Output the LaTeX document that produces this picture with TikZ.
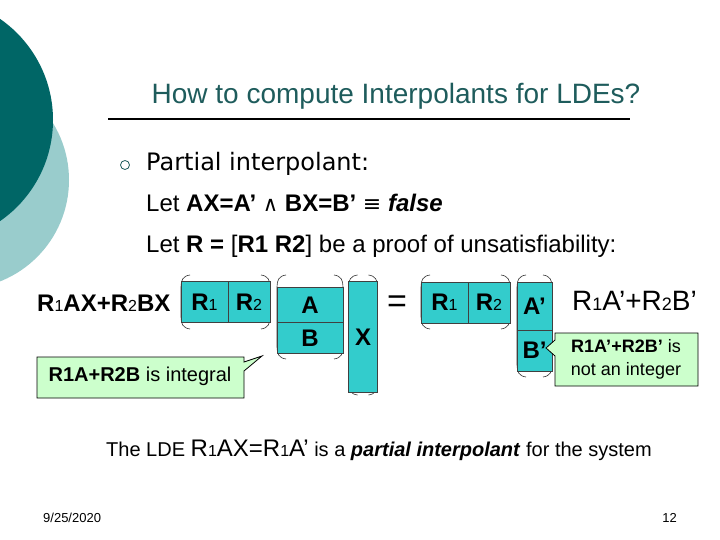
\documentclass[tikz,border=0pt]{standalone}
\usepackage{fontspec}
\setmainfont{Liberation Sans}
\newfontfamily\dejavu{DejaVu Sans}
\usetikzlibrary{positioning}
\definecolor{DeepTeal}{HTML}{006666}
\definecolor{PaleTeal}{HTML}{99CCCC}
\definecolor{TitleTeal}{HTML}{1E5C5C}
\definecolor{CellCyan}{HTML}{33CCCC}
\definecolor{NoteGreen}{HTML}{CCFFCC}
\newcommand{\fsz}[1]{\fontsize{#1bp}{#1bp}\selectfont}
\newcommand{\lowidx}[1]{{\fsz{16}\mdseries #1}}

\tikzset{
  cell/.style={draw=black!75,fill=CellCyan,line width=0.6pt,inner sep=0pt,
               outer sep=0pt,font=\fsz{24}\bfseries},
  paren/.style={draw=black!80,line width=0.6pt},
  note/.style={draw=black,fill=NoteGreen,line width=0.8pt},
  body/.style={anchor=base west,inner sep=0pt,font=\fsz{24}}
}

\begin{document}
\begin{tikzpicture}[x=1bp,y=-1bp]
  \clip (0,0) rectangle (720,540);
  \fill[white] (0,0) rectangle (720,540);
  % corner discs
  \fill[PaleTeal] (-40,180) circle (109bp);
  \fill[DeepTeal] (-70,120) circle (123bp);

  \node[font=\fsz{28},text=TitleTeal] (title) at (396,96) {How to compute Interpolants for LDEs?};
  \draw[line width=1.5pt] (108,119) -- (630,119);

  \node[draw=TitleTeal,circle,minimum size=9bp,inner sep=0pt,line width=0.8pt] (dot) at (125,165) {};
  \node[body,font=\dejavu\fsz{24}] (partial) at (146,171) {Partial interpolant:};
  \node[body] (letax) at (146,212) {Let \textbf{AX=A’} {\dejavu\fsz{21}∧} \textbf{BX=B’} {\dejavu\fsz{22}≡} \textbf{\textit{false}}};
  \node[body] (letr) at (146,253) {Let \textbf{R = }[\textbf{R1 R2}] be a proof of unsatisfiability:};

  % matrix brackets, then the cells on top
  \foreach \l/\r/\t/\b in {181/270/275/329, 277/343/275/359, 348.5/377.5/275/395,
                           421/510/275/329, 517/552/275/377}{
    \draw[paren] ({\l+9},\t) .. controls ({\l+2},{\t+1}) and (\l,{\t+5}) .. (\l,{\t+12})
      -- (\l,{\b-12}) .. controls (\l,{\b-5}) and ({\l+2},{\b-1}) .. ({\l+9},\b);
    \draw[paren] ({\r-9},\t) .. controls ({\r-2},{\t+1}) and (\r,{\t+5}) .. (\r,{\t+12})
      -- (\r,{\b-12}) .. controls (\r,{\b-5}) and ({\r-2},{\b-1}) .. ({\r-9},\b);
  }

  \node[body,font=\fsz{24}\bfseries] (lhs) at (37,311) {R\lowidx1AX+R\lowidx2BX};
  \node[cell,minimum width=47bp,minimum height=41bp] (r1a) at (204.5,302) {R\lowidx1};
  \node[cell,minimum width=42bp,minimum height=41bp,right=0pt of r1a] (r2a) {R\lowidx2};
  \node[cell,minimum width=66bp,minimum height=35bp] (ca) at (310,305) {A};
  \node[cell,minimum width=66bp,minimum height=31bp,below=0pt of ca] (cb) {B};
  \node[cell,minimum width=29bp,minimum height=111bp] (cx) at (363,337) {X};
  \node[font=\fsz{34}] (eq) at (397,304) {=};
  \node[cell,minimum width=47bp,minimum height=41bp] (r1b) at (444.5,302.5) {R\lowidx1};
  \node[cell,minimum width=42bp,minimum height=41bp,right=0pt of r1b] (r2b) {R\lowidx2};
  \node[cell,minimum width=35bp,minimum height=48bp] (ca2) at (534.5,306) {A’};
  \node[cell,minimum width=35bp,minimum height=41bp,below=0pt of ca2] (cb2) {B’};
  \node[body,font=\fsz{28}] (rhs) at (572,310) {R{\fsz{18}1}A’+R{\fsz{18}2}B’};

  % callouts
  \draw[note] (37,357) -- (244,357) -- (244,362) -- (262,356) -- (244,371)
    -- (244,398) -- (37,398) -- cycle;
  \node[anchor=base,font=\fsz{20}] (integral) at (140,381) {\textbf{R1A+R2B} is integral};
  \draw[note] (555,333) -- (698,333) -- (698,386) -- (555,386) -- (555,356)
    -- (546,348) -- (555,340) -- cycle;
  \node[font=\fontsize{18bp}{23bp}\selectfont,align=center] (notint) at (626,359)
    {\textbf{R1A’+R2B’} is\\ not an integer};

  \node[body,font=\fsz{20}] (lde) at (106,456)
    {The LDE {\fsz{24}R\lowidx1AX=R\lowidx1A’} is a \textbf{\textit{partial interpolant}} for the system};

  \node[body,font=\fsz{13}] (date) at (43,522) {9/25/2020};
  \node[anchor=base east,inner sep=0pt,font=\fsz{13}] (page) at (677,522) {12};
\end{tikzpicture}
\end{document}
